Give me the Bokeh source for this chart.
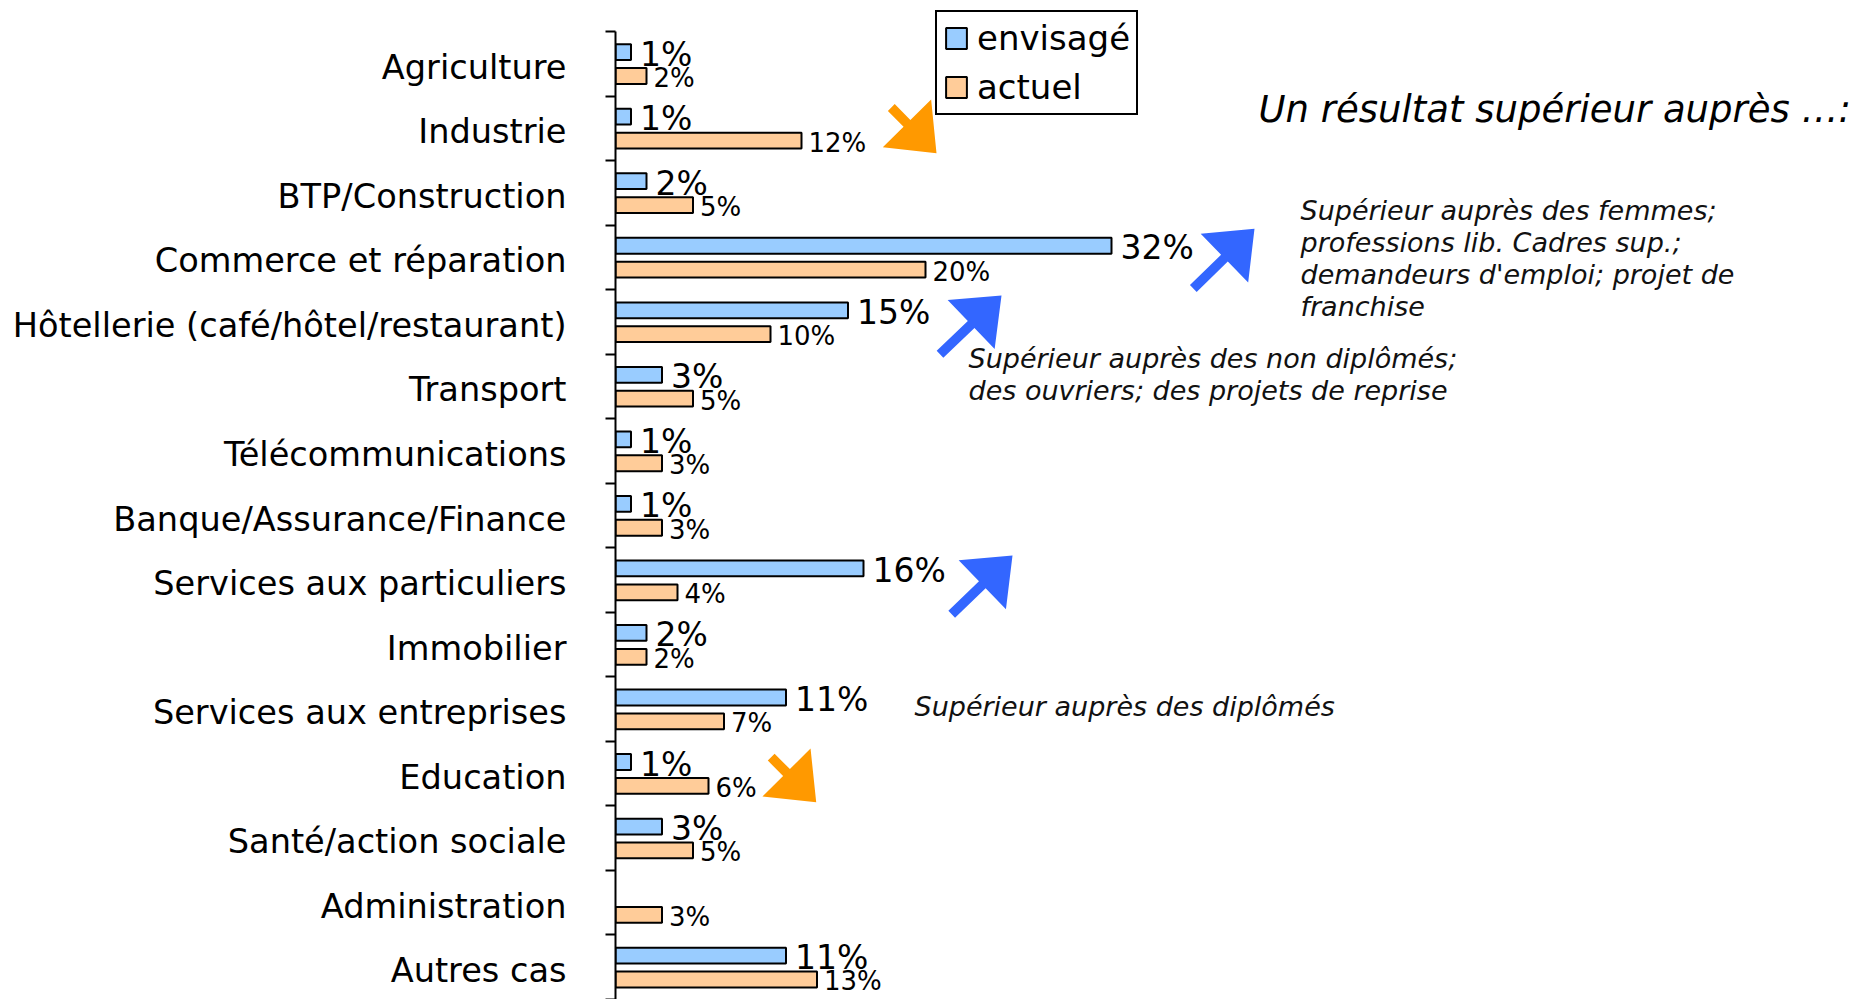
import math
from bokeh.plotting import figure
from bokeh.models import Range1d, FixedTicker, ColumnDataSource, Legend, LegendItem
from bokeh.core.properties import value
from bokeh.embed import file_html
from bokeh.resources import INLINE

# ---------------- data ----------------
categories = [
    "Agriculture", "Industrie", "BTP/Construction", "Commerce et réparation",
    "Hôtellerie (café/hôtel/restaurant)", "Transport", "Télécommunications",
    "Banque/Assurance/Finance", "Services aux particuliers", "Immobilier",
    "Services aux entreprises", "Education", "Santé/action sociale",
    "Administration", "Autres cas",
]
envisage = [1, 1, 2, 32, 15, 3, 1, 1, 16, 2, 11, 1, 3, None, 11]
actuel = [2, 12, 5, 20, 10, 5, 3, 3, 4, 2, 7, 6, 5, 3, 13]
series_names = ["envisagé", "actuel"]
title_text = "Un résultat supérieur auprès …:"
note_femmes = ["Supérieur auprès des femmes;", "professions lib. Cadres sup.;",
               "demandeurs d'emploi; projet de", "franchise"]
note_nondipl = ["Supérieur auprès des non diplômés;", "des ouvriers; des projets de reprise"]
note_dipl = ["Supérieur auprès des diplômés"]

# ---------------- layout (pixels) ----------------
W, H = 1856, 999
LEFT = 615          # x of the axis line
TOP_PX = 31         # y of the first band boundary
PX_PER_PCT = 15.5
n = len(categories)
frame_w = W - LEFT
band = (H - TOP_PX) / n
FONT = "DejaVu Sans"
BLUE, ORANGE = "#99CCFF", "#FFCC99"
ARROW_BLUE, ARROW_ORANGE = "#3366FF", "#FF9900"


def to_data(xw, yw):
    return ((xw - LEFT) / PX_PER_PCT, (yw - TOP_PX) / band)


p = figure(width=W, height=H, x_range=Range1d(0, frame_w / PX_PER_PCT),
           y_range=Range1d(n, -TOP_PX / band), output_backend="svg",
           toolbar_location=None, x_axis_location=None,
           min_border_left=LEFT, min_border_top=0,
           min_border_bottom=0, min_border_right=0, title=None)
p.outline_line_color = None
p.grid.visible = False
p.background_fill_color = "white"

# bars
B_OFF, O_OFF, BAR_H = 0.32, 0.69, 0.245
b_idx = [i for i, v in enumerate(envisage) if v is not None]
bsrc = ColumnDataSource(dict(y=[i + B_OFF for i in b_idx],
                             x=[envisage[i] for i in b_idx],
                             t=[f"{envisage[i]}%" for i in b_idx]))
osrc = ColumnDataSource(dict(y=[i + O_OFF for i in range(n)], x=actuel,
                             t=[f"{v}%" for v in actuel]))
rb = p.hbar(y="y", left=0, right="x", height=BAR_H, source=bsrc,
            fill_color=BLUE, line_color="black", line_width=2)
ro = p.hbar(y="y", left=0, right="x", height=BAR_H, source=osrc,
            fill_color=ORANGE, line_color="black", line_width=2)

# value labels
p.text(x="x", y="y", text="t", source=bsrc, x_offset=9, y_offset=2,
       text_font=value(FONT), text_font_size="33px", text_color="black",
       text_baseline="middle", text_align="left")
p.text(x="x", y="y", text="t", source=osrc, x_offset=7, y_offset=2,
       text_font=value(FONT), text_font_size="26px", text_color="black",
       text_baseline="middle", text_align="left")

# y axis: labels at band centres, ticks at boundaries
LABEL_SHIFT = 3.5 / band
ax = p.yaxis[0]
ax.bounds = (0, n)
ax.ticker = FixedTicker(ticks=[i + 0.5 + LABEL_SHIFT for i in range(n)],
                        minor_ticks=list(range(n + 1)))
ax.major_label_overrides = {i + 0.5 + LABEL_SHIFT: c for i, c in enumerate(categories)}
ax.axis_line_width = 2
ax.axis_line_color = "black"
ax.major_tick_out = 0
ax.major_tick_in = 0
ax.major_tick_line_color = None
ax.minor_tick_out = 10
ax.minor_tick_in = 0
ax.minor_tick_line_width = 2
ax.minor_tick_line_color = "black"
ax.major_label_text_font = FONT
ax.major_label_text_font_size = "33.6px"
ax.major_label_text_color = "black"
ax.major_label_standoff = 39

# legend (bottom-left corner given relative to the frame's bottom-left)
legend = Legend(items=[LegendItem(label=series_names[0], renderers=[rb]),
                       LegendItem(label=series_names[1], renderers=[ro])],
                location=(935 - LEFT, H - 115),
                label_text_font=FONT, label_text_font_size="34px",
                label_text_color="black", label_height=40,
                glyph_width=26, glyph_height=26, label_standoff=8,
                padding=6, spacing=9, margin=0,
                border_line_color="black", border_line_width=2,
                border_line_alpha=1,
                background_fill_color="white", background_fill_alpha=1)
p.add_layout(legend)

# title
tx, ty = to_data(1258, 109)
p.text(x=[tx], y=[ty], text=[title_text], text_font=value(FONT),
       text_font_size="37px", text_font_style="italic", text_color="black",
       text_baseline="middle", text_align="left")

# notes
def note(lines, xw, yw0, step=32):
    xs, ys = [], []
    for k, _ in enumerate(lines):
        x, y = to_data(xw, yw0 + k * step)
        xs.append(x); ys.append(y)
    p.text(x=xs, y=ys, text=lines, text_font=value(FONT), text_font_size="27px",
           text_font_style="italic", text_color="#111111",
           text_baseline="middle", text_align="left")

note(note_femmes, 1300, 210)
note(note_nondipl, 968, 358)
note(note_dipl, 914, 706)

# block arrows (tail -> tip, window pixels)
arrows = [
    ((890.8, 107.0), (936.0, 152.7), ARROW_ORANGE),
    ((1192.8, 288.0), (1254.0, 228.3), ARROW_BLUE),
    ((939.5, 353.8), (1001.0, 295.0), ARROW_BLUE),
    ((951.2, 613.8), (1012.0, 555.0), ARROW_BLUE),
    ((770.7, 756.7), (815.7, 801.7), ARROW_ORANGE),
]
HL, HW, SW = 42, 34, 4.8
axs, ays, acol = [], [], []
for (t0, t1), (p0, p1), col in arrows:
    dx, dy = p0 - t0, p1 - t1
    L = math.hypot(dx, dy)
    ux, uy = dx / L, dy / L
    nx, ny = -uy, ux
    bx, by = p0 - ux * HL, p1 - uy * HL
    pts = [(t0 + nx * SW, t1 + ny * SW), (bx + nx * SW, by + ny * SW),
           (bx + nx * HW, by + ny * HW), (p0, p1),
           (bx - nx * HW, by - ny * HW), (bx - nx * SW, by - ny * SW),
           (t0 - nx * SW, t1 - ny * SW)]
    d = [to_data(a, b) for a, b in pts]
    axs.append([q[0] for q in d]); ays.append([q[1] for q in d]); acol.append(col)
p.patches(xs=axs, ys=ays, fill_color=acol, line_color=None)

open("out.html", "w").write(file_html(p, INLINE))
